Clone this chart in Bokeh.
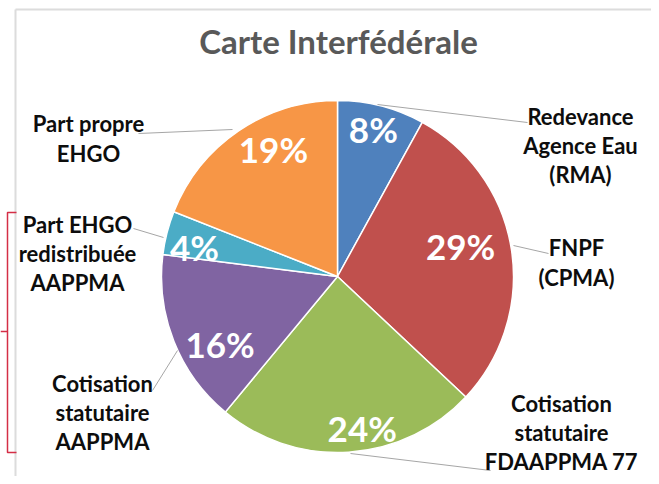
import numpy as np
from bokeh.plotting import figure
from bokeh.models import Range1d, ColumnDataSource
from bokeh.core.properties import value
from bokeh.embed import file_html
from bokeh.resources import INLINE

# ---------------- data ----------------
title_text = "Carte Interfédérale"
categories = [
    "Redevance\nAgence Eau\n(RMA)",
    "FNPF\n(CPMA)",
    "Cotisation\nstatutaire\nFDAAPPMA 77",
    "Cotisation\nstatutaire\nAAPPMA",
    "Part EHGO\nredistribuée\nAAPPMA",
    "Part propre\nEHGO",
]
shares = [8, 29, 24, 16, 4, 19]
colors = ["#4F81BD", "#C0504D", "#9BBB59", "#8064A2", "#4BACC6", "#F79646"]

# ---------------- layout (pixels from the top-left corner) ----------------
W, H = 651, 476
FONT = "Lato"


def py(y):
    return H - y


CX, CY, R = 337, 276, 176
# percent labels: radius fraction & angle nudge (deg)
pct_r = [0.86, 0.72, 0.87, 0.77, 0.83, 0.81]
pct_da = [0.7, 4.7, 5.7, 8.4, 2.6, -7.5]
# category label block centres
lab_x = [580, 576, 561, 102, 77, 88]
lab_y = [145, 262, 432, 412, 253, 138]
# leader lines
lead_x0 = [377, 513, 350, 177, 163, 232]
lead_y0 = [104, 245, 453, 350, 237, 129]
lead_x1 = [527, 548, 490, 152, 133, 138]
lead_y1 = [122, 253, 470, 390, 228, 133]

p = figure(width=W, height=H, output_backend="svg", toolbar_location=None,
           x_range=Range1d(0, W), y_range=Range1d(0, H), min_border=0)
p.axis.visible = False
p.grid.visible = False
p.outline_line_color = None
p.background_fill_color = "white"
p.border_fill_color = "white"

# frame border lines (slide edge)
p.line(x=[15, 700], y=[py(9), py(9)], line_color="#dcdcdc", line_width=2)
p.line(x=[15, 15], y=[py(9), py(500)], line_color="#dcdcdc", line_width=2)

# red bracket
p.line(x=[16, 7, 7, 16], y=[py(212), py(212), py(452), py(452)],
       line_color="#d42e46", line_width=1.5)
p.line(x=[7, 0], y=[py(331), py(331)], line_color="#d42e46", line_width=1.5)

# pie
vals = np.array(shares, dtype=float)
frac = vals / vals.sum()
cum = np.cumsum(frac)
prev = np.concatenate([[0.0], cum[:-1]])
end_a = np.pi / 2 - 2 * np.pi * prev
start_a = np.pi / 2 - 2 * np.pi * cum
src = ColumnDataSource(dict(x=[CX] * len(vals), y=[py(CY)] * len(vals),
                            s=start_a, e=end_a, c=colors))
p.wedge(x="x", y="y", radius=R, start_angle="s", end_angle="e",
        fill_color="c", line_color="white", line_width=1.5, source=src)

# leader lines
p.segment(x0=lead_x0, y0=[py(v) for v in lead_y0], x1=lead_x1,
          y1=[py(v) for v in lead_y1], line_color="#a6a6a6", line_width=1)

# percent labels
mid = (start_a + end_a) / 2 + np.radians(pct_da)
rr = np.array(pct_r) * R
px = CX + rr * np.cos(mid)
pyy = py(CY) + rr * np.sin(mid)
p.text(x=px, y=pyy, text=[f"{int(v)}%" for v in shares], text_color="white",
       text_font=value(FONT), text_font_style="bold", text_font_size="35px",
       text_align="center", text_baseline="middle")

# category labels
p.text(x=lab_x, y=[py(v) for v in lab_y], text=categories, text_color="#0d0d0d",
       text_font=value(FONT), text_font_style="bold", text_font_size="22px",
       text_align="center", text_baseline="middle", text_line_height=1.08)

# title
p.text(x=[338], y=[py(40)], text=[title_text], text_color="#595959",
       text_font=value(FONT), text_font_style="bold", text_font_size="33px",
       text_align="center", text_baseline="middle")

open("out.html", "w").write(file_html(p, INLINE))
